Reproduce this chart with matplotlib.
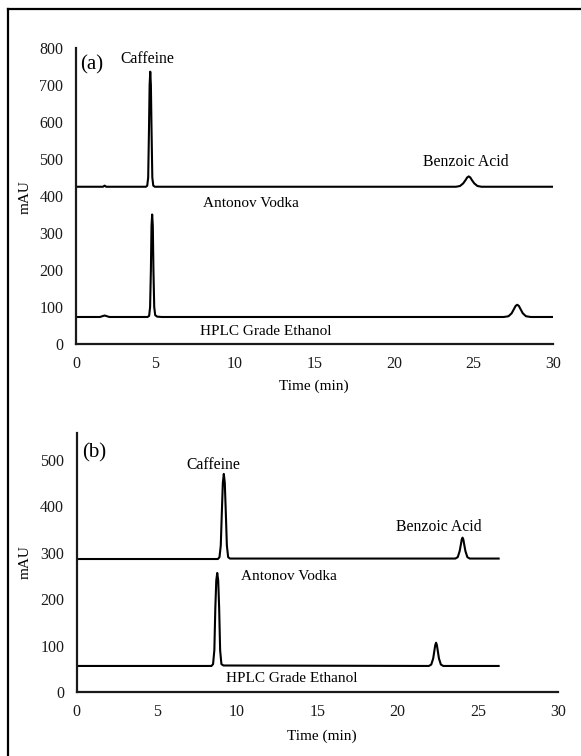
import matplotlib
matplotlib.use("Agg")
import matplotlib.pyplot as plt
from matplotlib.lines import Line2D

plt.rcParams['font.family'] = ['Liberation Serif', 'DejaVu Serif']

# ---- Panel (a) data ----
a_vodka_t = [0, 1.7, 1.8, 1.9, 2.0, 4.4, 4.48, 4.54, 4.59, 4.63, 4.67, 4.71, 4.75, 4.8, 4.86, 4.95,
             23.9, 24.15, 24.35, 24.5, 24.6, 24.7, 24.8, 24.9, 25.05, 25.25, 25.5, 30]
a_vodka_y = [425, 425, 428, 425, 425, 425, 428, 450, 580, 700, 736, 700, 580, 450, 428, 425,
             425, 427, 434, 443, 450, 453, 450, 443, 434, 427, 425, 425]
a_hplc_t = [0, 1.5, 1.8, 2.1, 4.5, 4.6, 4.66, 4.71, 4.75, 4.79, 4.83, 4.87, 4.92, 4.98, 5.1, 5.4,
            26.9, 27.2, 27.4, 27.55, 27.65, 27.75, 27.85, 27.95, 28.1, 28.3, 28.6, 30]
a_hplc_y = [73, 73, 77, 73, 73, 76, 100, 200, 320, 350, 320, 200, 100, 78, 74, 73,
            73, 75, 83, 95, 103, 106, 103, 95, 83, 75, 73, 73]

# ---- Panel (b) data ----
b_vodka_t = [0, 8.8, 8.9, 8.98, 9.05, 9.11, 9.17, 9.23, 9.29, 9.36, 9.44, 9.55,
             23.6, 23.75, 23.87, 23.95, 24.0, 24.05, 24.1, 24.15, 24.23, 24.35, 24.5, 26.3]
b_vodka_y = [286, 286, 290, 315, 390, 450, 469, 450, 390, 315, 290, 287,
             287, 290, 303, 318, 328, 332, 328, 318, 303, 290, 287, 287]
b_hplc_t = [0, 8.4, 8.5, 8.58, 8.64, 8.7, 8.76, 8.82, 8.88, 8.94, 9.02, 9.15,
            21.95, 22.1, 22.22, 22.3, 22.35, 22.4, 22.45, 22.5, 22.58, 22.7, 22.85, 26.3]
b_hplc_y = [56, 56, 60, 90, 180, 240, 256, 240, 180, 90, 60, 57,
            56, 59, 72, 90, 101, 106, 101, 90, 72, 59, 56, 56]

xticks = [0, 5, 10, 15, 20, 25, 30]
a_yticks = [0, 100, 200, 300, 400, 500, 600, 700, 800]
b_yticks = [0, 100, 200, 300, 400, 500]

W, H = 581, 756
fig = plt.figure(figsize=(W / 100, H / 100), dpi=100)

def style(ax, ylim, yticks):
    ax.set_xlim(0, 30)
    ax.set_ylim(*ylim)
    ax.set_xticks(xticks)
    ax.set_yticks(yticks)
    for s in ['top', 'right']:
        ax.spines[s].set_visible(False)
    for s in ['left', 'bottom']:
        ax.spines[s].set_linewidth(1.6)
        ax.spines[s].set_color('#1a1a1a')
    ax.tick_params(length=0, labelsize=11.5, pad=9, colors='#1a1a1a')
    ax.patch.set_visible(False)

LW = 1.5
ax1 = fig.add_axes([76 / W, 1 - 344 / H, (553 - 76) / W, (344 - 48) / H])
style(ax1, (0, 800), a_yticks)
ax1.plot(a_vodka_t, a_vodka_y, color='black', lw=LW, solid_joinstyle='round')
ax1.plot(a_hplc_t, a_hplc_y, color='black', lw=LW, solid_joinstyle='round')
ax1.text(0.25, 754, '(a)', fontsize=15, va='center', ha='left')
ax1.text(4.47, 770, 'Caffeine', fontsize=11.3, va='center', ha='center')
ax1.text(11.0, 380, 'Antonov Vodka', fontsize=11, va='center', ha='center')
ax1.text(24.5, 492, 'Benzoic Acid', fontsize=11.3, va='center', ha='center')
ax1.text(11.95, 33, 'HPLC Grade Ethanol', fontsize=11, va='center', ha='center')

ax2 = fig.add_axes([76.7 / W, 1 - 692 / H, (558 - 76.7) / W, (692 - 433) / H])
style(ax2, (0, 557), b_yticks)
ax2.plot(b_vodka_t, b_vodka_y, color='black', lw=LW, solid_joinstyle='round')
ax2.plot(b_hplc_t, b_hplc_y, color='black', lw=LW, solid_joinstyle='round')
ax2.text(0.33, 514, '(b)', fontsize=15, va='center', ha='left')
ax2.text(8.5, 488, 'Caffeine', fontsize=11.3, va='center', ha='center')
ax2.text(13.2, 248, 'Antonov Vodka', fontsize=11, va='center', ha='center')
ax2.text(22.6, 355, 'Benzoic Acid', fontsize=11.3, va='center', ha='center')
ax2.text(13.4, 30, 'HPLC Grade Ethanol', fontsize=11, va='center', ha='center')

fig.text(314 / W, 1 - 386 / H, 'Time (min)', fontsize=11, ha='center', va='center')
fig.text(322 / W, 1 - 736 / H, 'Time (min)', fontsize=11, ha='center', va='center')
fig.text(25 / W, 1 - 197 / H, 'mAU', fontsize=11, ha='center', va='center', rotation=90)
fig.text(25 / W, 1 - 562 / H, 'mAU', fontsize=11, ha='center', va='center', rotation=90)

# outer frame (left and top edges)
fig.add_artist(Line2D([8 / W, 8 / W], [0, 1 - 9 / H], transform=fig.transFigure, color='black', lw=1.6))
fig.add_artist(Line2D([8 / W, 1], [1 - 9 / H, 1 - 9 / H], transform=fig.transFigure, color='black', lw=1.6))

fig.savefig('out.png', dpi=100)
